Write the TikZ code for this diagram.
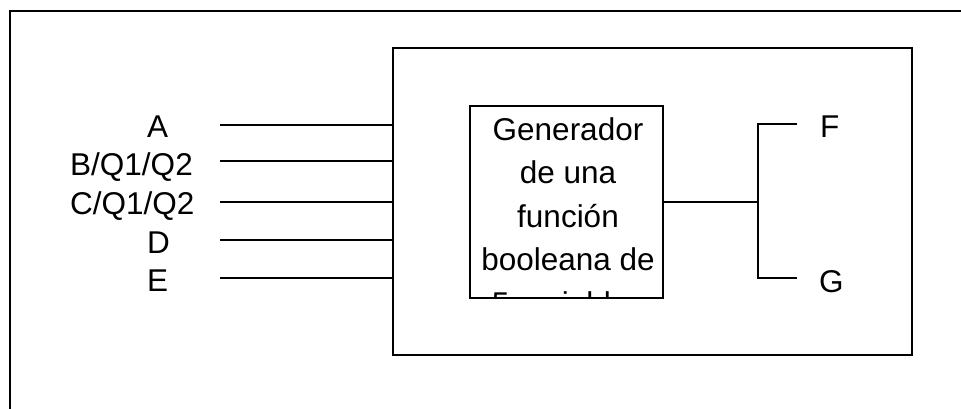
\documentclass[tikz,border=0pt]{standalone}
\usepackage{fontspec}
\setmainfont{Liberation Sans}
\begin{document}
\begin{tikzpicture}[x=1pt,y=-1pt,
  frameline/.style={line width=2.3pt},
  inwire/.style={line width=2.2pt},
  outwire/.style={line width=1.4pt},
  blockbox/.style={draw, line width=1.6pt, inner sep=0pt, outer sep=0pt},
  genbox/.style={draw, line width=1.4pt, inner sep=0pt, outer sep=0pt,
    minimum width=193pt, minimum height=192pt},
  sig/.style={font=\fontsize{31.5}{37}\selectfont, inner sep=0pt, anchor=base west}]
  % page area
  \useasboundingbox (0,0) rectangle (961,408);
  \clip (0,0) rectangle (961,408);
  % open frame: only top and left edges are inside the page
  \coordinate (frameTL) at (10,11);
  \draw[frameline] (frameTL |- 0,420) -- (frameTL) -- (frameTL -| 980,0);

  % outer block
  \node[blockbox, minimum width=519pt, minimum height=307pt] (blk) at (652.5,201.5) {};
  % function generator, its last line cut by the box edge
  \node[genbox] (gen) at (566.5,202) {};
  \begin{scope}
    \clip (gen.north west) rectangle (gen.south east);
    \node[font=\fontsize{31.5}{43.5}\selectfont, align=center, anchor=base, inner sep=0pt]
      (gentxt) at (568,314) {Generador\\de una\\función\\booleana de\\5 variables};
  \end{scope}
  \node[genbox, fill=none] at (gen.center) {};

  % input labels
  \node[sig] (lA) at (147,137) {A};
  \node[sig] (lB) at (70,175) {B/Q1/Q2};
  \node[sig] (lC) at (70,214) {C/Q1/Q2};
  \node[sig] (lD) at (147,253) {D};
  \node[sig] (lE) at (147,291) {E};

  % input wires
  \coordinate (inA) at (220,125);
  \coordinate (inB) at (220,161);
  \coordinate (inC) at (220,202);
  \coordinate (inD) at (220,240);
  \coordinate (inE) at (220,278);
  \foreach \w in {inA,inB,inC,inD,inE}
    \draw[inwire] (\w) -- (\w -| blk.west);

  % outputs
  \coordinate (split) at (758,202);
  \coordinate (fTurn) at (758,124);
  \coordinate (gTurn) at (758,278);
  \coordinate (fEnd) at (797,124);
  \coordinate (gEnd) at (797,278);
  \draw[outwire] (gen.east) -- (split);
  \draw[outwire] (fEnd) -- (fTurn) -- (gTurn) -- (gEnd);
  \node[sig] (lF) at (820,137) {F};
  \node[sig] (lG) at (819,292) {G};
\end{tikzpicture}
\end{document}
